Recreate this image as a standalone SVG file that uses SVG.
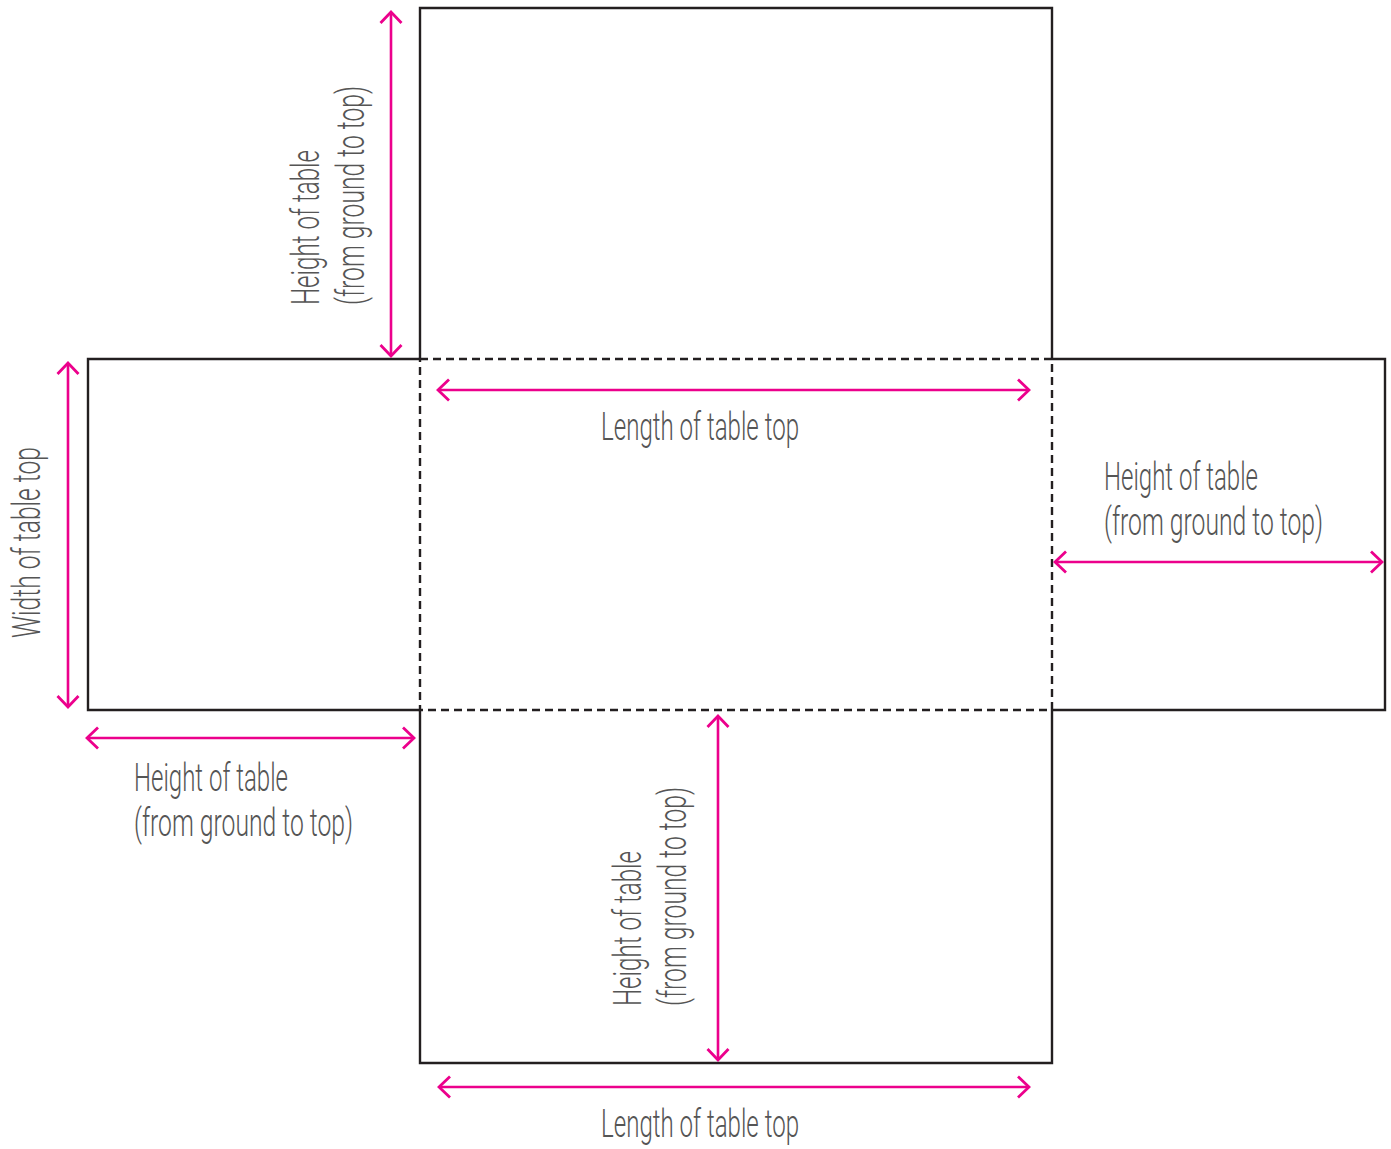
<svg xmlns="http://www.w3.org/2000/svg" width="1391" height="1149" viewBox="0 0 1391 1149">
<style>
.solid{fill:none;stroke:#231f20;stroke-width:2.4}
.dash{fill:none;stroke:#231f20;stroke-width:2.4;stroke-dasharray:8 5}
.arr{fill:none;stroke:#ec008c;stroke-width:2.6;marker-start:url(#ah);marker-end:url(#ah)}
.lbl{font-family:Roboto,"Liberation Sans",sans-serif;font-weight:300;font-size:38px;fill:#555}
</style>
<defs>
<marker id="ah" markerUnits="userSpaceOnUse" viewBox="-14 -13 16 26" refX="0" refY="0" markerWidth="16" markerHeight="26" orient="auto-start-reverse">
<path d="M-11,-10.5 L0,0 L-11,10.5" fill="none" stroke="#ec008c" stroke-width="2.8"/>
</marker>
</defs>
<rect width="1391" height="1149" fill="#fff"/>
<g id="panels">
<g id="top-panel"><path class="solid" d="M420,359 V8 H1052 V359"/></g>
<g id="left-panel"><path class="solid" d="M420,359 H88 V710 H420"/></g>
<g id="right-panel"><path class="solid" d="M1052,359 H1385 V710 H1052"/></g>
<g id="bottom-panel"><path class="solid" d="M420,710 V1063 H1052 V710"/></g>
<g id="table-top"><rect class="dash" x="420" y="359" width="632" height="351"/></g>
</g>
<g id="connectors">
<line class="arr" x1="391" y1="12" x2="391" y2="356"/>
<line class="arr" x1="438" y1="390" x2="1029" y2="390"/>
<line class="arr" x1="1055" y1="562" x2="1382" y2="562"/>
<line class="arr" x1="68" y1="363" x2="68" y2="707"/>
<line class="arr" x1="87" y1="738" x2="414" y2="738"/>
<line class="arr" x1="718" y1="716" x2="718" y2="1060"/>
<line class="arr" x1="439" y1="1087" x2="1029" y2="1087"/>
</g>
<g id="labels">
<text class="lbl" x="601" y="440" textLength="198" lengthAdjust="spacingAndGlyphs">Length of table top</text>
<text class="lbl" x="601" y="1137" textLength="198" lengthAdjust="spacingAndGlyphs">Length of table top</text>
<text class="lbl" x="1104" y="490" textLength="154" lengthAdjust="spacingAndGlyphs">Height of table</text>
<text class="lbl" x="1104" y="535" textLength="219" lengthAdjust="spacingAndGlyphs">(from ground to top)</text>
<text class="lbl" x="134" y="791" textLength="154" lengthAdjust="spacingAndGlyphs">Height of table</text>
<text class="lbl" x="134" y="836" textLength="219" lengthAdjust="spacingAndGlyphs">(from ground to top)</text>
<text class="lbl" transform="translate(40,638) rotate(-90)" textLength="191" lengthAdjust="spacingAndGlyphs">Width of table top</text>
<text class="lbl" transform="translate(319,305) rotate(-90)" textLength="155" lengthAdjust="spacingAndGlyphs">Height of table</text>
<text class="lbl" transform="translate(364,305) rotate(-90)" textLength="219" lengthAdjust="spacingAndGlyphs">(from ground to top)</text>
<text class="lbl" transform="translate(641,1006) rotate(-90)" textLength="155" lengthAdjust="spacingAndGlyphs">Height of table</text>
<text class="lbl" transform="translate(686,1006) rotate(-90)" textLength="219" lengthAdjust="spacingAndGlyphs">(from ground to top)</text>
</g>
</svg>
